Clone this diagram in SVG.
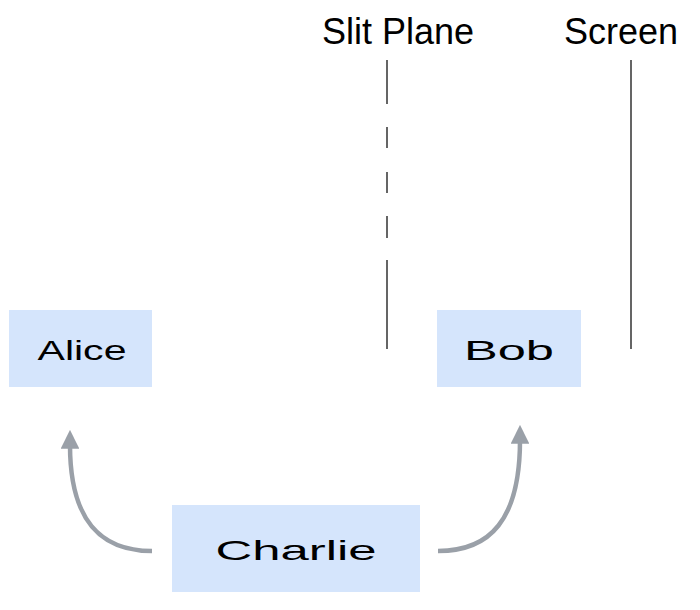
<svg xmlns="http://www.w3.org/2000/svg" width="700" height="610" viewBox="0 0 700 610">
<style>
.box{fill:#d5e5fc}
.lbl{font-family:"Liberation Sans",Arial,sans-serif;font-size:28px;fill:#000;text-anchor:middle}
.hd{font-family:"Liberation Sans",Arial,sans-serif;font-size:36px;fill:#000;text-anchor:middle}
.ln{stroke:#333;stroke-width:1.5}
.arr{fill:none;stroke:#9aa0a8;stroke-width:4.5}
</style>
<defs><marker id="ah" viewBox="0 0 10 10" refX="2" refY="5" markerWidth="4.2" markerHeight="4.2" orient="auto" markerUnits="strokeWidth"><path d="M0,0L10,5L0,10z" fill="#9aa0a8"/></marker></defs>
<rect width="700" height="610" fill="#fff"/>
<g id="labels">
<text class="hd" x="398" y="44">Slit Plane</text>
<text class="hd" x="621" y="44">Screen</text>
<path class="ln" d="M387,60V104M387,127V148M387,172V193M387,216V238M387,260V349M631,60V349"/>
</g>
<g id="alice"><rect class="box" x="9" y="310" width="143" height="77"/><text class="lbl" x="82" y="360" textLength="89" lengthAdjust="spacingAndGlyphs">Alice</text></g>
<g id="bob"><rect class="box" x="437" y="310" width="144" height="77"/><text class="lbl" x="509" y="360" textLength="90" lengthAdjust="spacingAndGlyphs">Bob</text></g>
<g id="charlie"><rect class="box" x="172" y="505" width="248" height="87"/><text class="lbl" x="296" y="560" textLength="161" lengthAdjust="spacingAndGlyphs">Charlie</text></g>
<g id="connectors">
<path class="arr" marker-end="url(#ah)" d="M152,551C100,551 70,520 70,445"/>
<path class="arr" marker-end="url(#ah)" d="M438,551C490,551 520,520 520,440"/>
</g>
</svg>
